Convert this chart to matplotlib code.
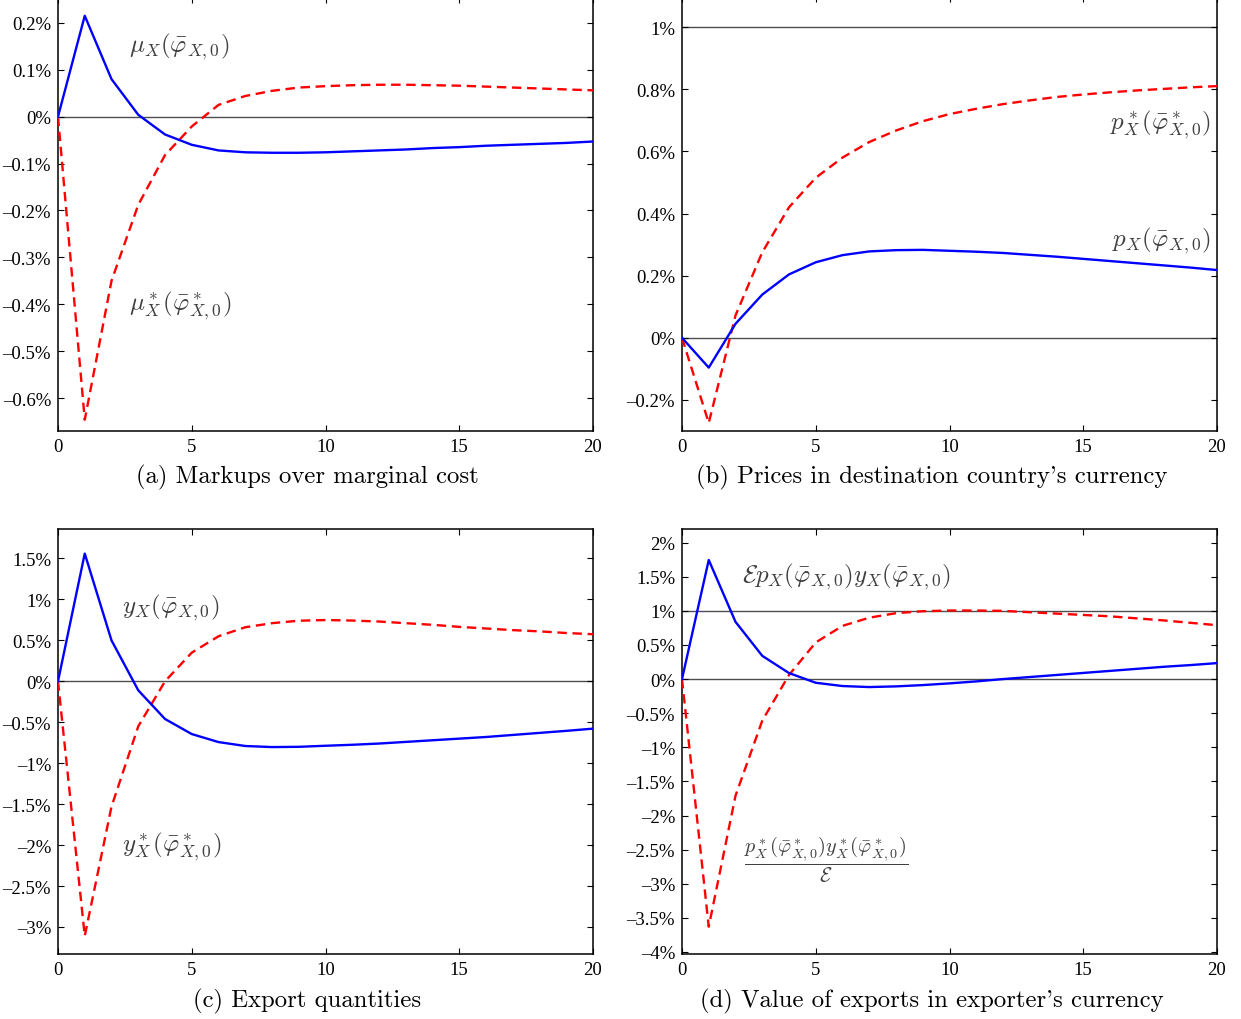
import numpy as np
import matplotlib
matplotlib.use("Agg")
import matplotlib.pyplot as plt
from matplotlib.ticker import FuncFormatter, MultipleLocator

plt.rcParams["mathtext.fontset"] = "cm"
plt.rcParams["font.family"] = ["Liberation Serif", "DejaVu Serif"]

t = np.arange(21)

# responses in percent
mu_home = [0, 0.215, 0.080, 0.004, -0.038, -0.060, -0.072, -0.076, -0.077, -0.077,
           -0.076, -0.074, -0.072, -0.070, -0.067, -0.065, -0.062, -0.060, -0.058, -0.056, -0.053]
mu_dest = [0, -0.646, -0.350, -0.188, -0.082, -0.021, 0.025, 0.044, 0.055, 0.062,
           0.065, 0.067, 0.068, 0.068, 0.067, 0.066, 0.064, 0.062, 0.060, 0.058, 0.056]

p_home = [0, -0.096, 0.045, 0.139, 0.204, 0.243, 0.266, 0.278, 0.282, 0.283,
          0.280, 0.277, 0.273, 0.267, 0.261, 0.254, 0.247, 0.240, 0.233, 0.226, 0.218]
p_dest = [0, -0.274, 0.072, 0.275, 0.420, 0.515, 0.580, 0.630, 0.667, 0.697,
          0.720, 0.737, 0.752, 0.764, 0.775, 0.783, 0.790, 0.796, 0.801, 0.806, 0.810]

y_home = [0, 1.56, 0.50, -0.11, -0.46, -0.644, -0.742, -0.79, -0.803, -0.80,
          -0.787, -0.775, -0.76, -0.74, -0.72, -0.70, -0.68, -0.655, -0.63, -0.605, -0.578]
y_dest = [0, -3.11, -1.53, -0.55, 0.0, 0.35, 0.55, 0.66, 0.71, 0.74,
          0.748, 0.742, 0.73, 0.71, 0.69, 0.665, 0.645, 0.625, 0.61, 0.59, 0.575]

v_home = [0, 1.746, 0.839, 0.341, 0.088, -0.054, -0.102, -0.117, -0.107, -0.088,
          -0.063, -0.034, 0.0, 0.03, 0.06, 0.09, 0.12, 0.15, 0.18, 0.205, 0.234]
v_dest = [0, -3.63, -1.71, -0.61, 0.06, 0.537, 0.78, 0.90, 0.966, 0.995,
          1.005, 1.005, 1.0, 0.98, 0.96, 0.94, 0.92, 0.89, 0.86, 0.825, 0.79]

captions = ["(a) Markups over marginal cost",
            "(b) Prices in destination country's currency",
            "(c) Export quantities",
            "(d) Value of exports in exporter's currency"]

W, H = 1241, 1020
fig = plt.figure(figsize=(W / 100, H / 100), dpi=100)


def make_axes(left, right, top, bottom):
    return fig.add_axes([left / W, 1 - bottom / H, (right - left) / W, (bottom - top) / H])


def pct(v, pos):
    s = "%g%%" % round(v, 6)
    return s.replace("-", "\u2013")


def style(ax, ylim, step, hlines):
    ax.set_xlim(0, 20)
    ax.set_ylim(*ylim)
    ax.xaxis.set_major_locator(MultipleLocator(5))
    ax.yaxis.set_major_locator(MultipleLocator(step))
    ax.yaxis.set_major_formatter(FuncFormatter(pct))
    ax.tick_params(direction="in", length=4, width=0.8, top=True, right=True,
                   labelsize=13.5, pad=5)
    for sp in ax.spines.values():
        sp.set_linewidth(1.1)
    for h in hlines:
        ax.axhline(h, color="0.3", lw=1.0, zorder=1)


def draw(ax, home, dest):
    ax.plot(t, dest, color="red", ls=(0, (4, 2.4)), lw=1.7, zorder=3)
    ax.plot(t, home, color="blue", lw=1.7, zorder=4)


lab = dict(color="0.25", fontsize=18)

ax_a = make_axes(58, 593, -2, 432)
draw(ax_a, mu_home, mu_dest)
style(ax_a, (-0.67, 0.255), 0.1, [0])
ax_a.text(2.65, 0.152, r"$\mu_X(\bar{\varphi}_{X,0})$", va="center", **lab)
ax_a.text(2.65, -0.4, r"$\mu^*_X(\bar{\varphi}^*_{X,0})$", va="center", **lab)

ax_b = make_axes(682, 1217, -3, 432)
draw(ax_b, p_home, p_dest)
style(ax_b, (-0.3, 1.1), 0.2, [0, 1])
ax_b.text(19.75, 0.69, r"$p^*_X(\bar{\varphi}^*_{X,0})$", va="center", ha="right", **lab)
ax_b.text(19.75, 0.315, r"$p_X(\bar{\varphi}_{X,0})$", va="center", ha="right", **lab)

ax_c = make_axes(58, 593, 530, 955)
draw(ax_c, y_home, y_dest)
style(ax_c, (-3.33, 1.86), 0.5, [0])
ax_c.text(2.4, 0.91, r"$y_X(\bar{\varphi}_{X,0})$", va="center", **lab)
ax_c.text(2.4, -2.0, r"$y^*_X(\bar{\varphi}^*_{X,0})$", va="center", **lab)

ax_d = make_axes(682, 1217, 530, 955)
draw(ax_d, v_home, v_dest)
style(ax_d, (-4.03, 2.2), 0.5, [0, 1])
ax_d.text(2.25, 1.51, r"$\mathcal{E}p_X(\bar{\varphi}_{X,0})y_X(\bar{\varphi}_{X,0})$", va="center", **lab)
ax_d.text(2.3, -2.64,
          r"$\dfrac{p^*_X(\bar{\varphi}^*_{X,0})y^*_X(\bar{\varphi}^*_{X,0})}{\mathcal{E}}$",
          va="center", color="0.25", fontsize=14.5)

cap = dict(fontsize=17.8, family="cmr10", ha="center", va="center")
fig.text(307 / W, 1 - 477 / H, captions[0], **cap)
fig.text(932 / W, 1 - 477 / H, captions[1], **cap)
fig.text(307 / W, 1 - 1001 / H, captions[2], **cap)
fig.text(932 / W, 1 - 1001 / H, captions[3], **cap)

fig.savefig("out.png", dpi=100)
